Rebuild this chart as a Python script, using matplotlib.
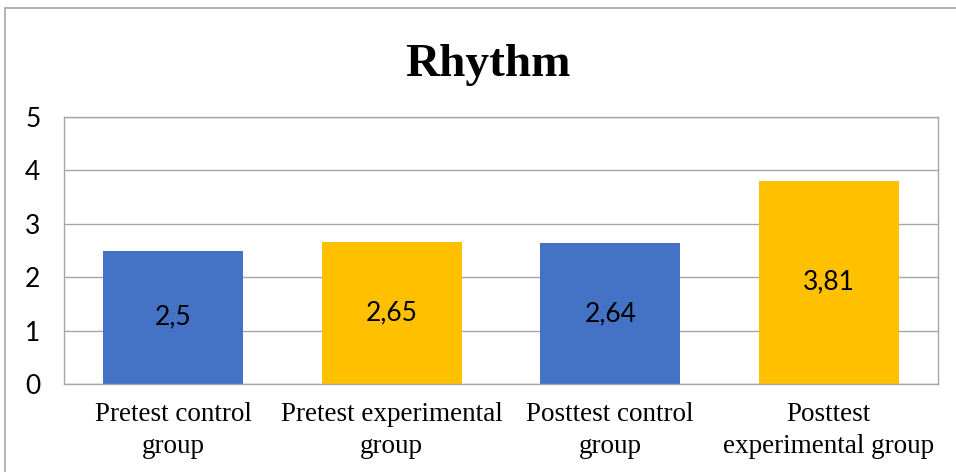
import matplotlib.pyplot as plt
from matplotlib.patches import Rectangle

groups = ['Pretest control\ngroup', 'Pretest experimental\ngroup',
          'Posttest control\ngroup', 'Posttest\nexperimental group']
means = [2.5, 2.65, 2.64, 3.81]
colors = ['#4472C4', '#FFC000', '#4472C4', '#FFC000']
yticks = [0, 1, 2, 3, 4, 5]

W, H = 956, 472
fig = plt.figure(figsize=(W / 100, H / 100), dpi=100)

# outer chart frame
fig.patches.append(Rectangle((5 / W, -0.1), 1.2, 1 - 8 / H + 0.1,
                             transform=fig.transFigure, fill=False,
                             edgecolor='#A6A6A6', linewidth=1.2))

ax = fig.add_axes([64 / W, 1 - 384 / H, (938 - 64) / W, (384 - 117) / H])

x = range(len(groups))
bars = ax.bar(x, means, width=0.64, color=colors, zorder=2)
for b, v in zip(bars, means):
    ax.text(b.get_x() + b.get_width() / 2, v / 2, f'{v:g}'.replace('.', ','),
            ha='center', va='center', fontsize=19, family='Lato', color='black')

ax.set_xlim(-0.5, len(groups) - 0.5)
ax.set_ylim(0, 5)
ax.set_yticks(yticks)
ax.set_yticklabels([str(t) for t in yticks], family='Lato', fontsize=19)
ax.set_xticks(list(x))
ax.set_xticklabels(groups, family='Liberation Serif', fontsize=19.5, linespacing=1.35)
ax.tick_params(axis='y', length=0, pad=17)
ax.tick_params(axis='x', length=0, pad=13)
ax.grid(axis='y', color='#A6A6A6', linewidth=1, zorder=0)
for s in ax.spines.values():
    s.set_color('#A6A6A6')
    s.set_linewidth(1)

fig.text(488 / W, 1 - 76 / H, 'Rhythm', ha='center', va='baseline',
         family='Liberation Serif', fontweight='bold', fontsize=34)

fig.savefig('out.png', dpi=100)
